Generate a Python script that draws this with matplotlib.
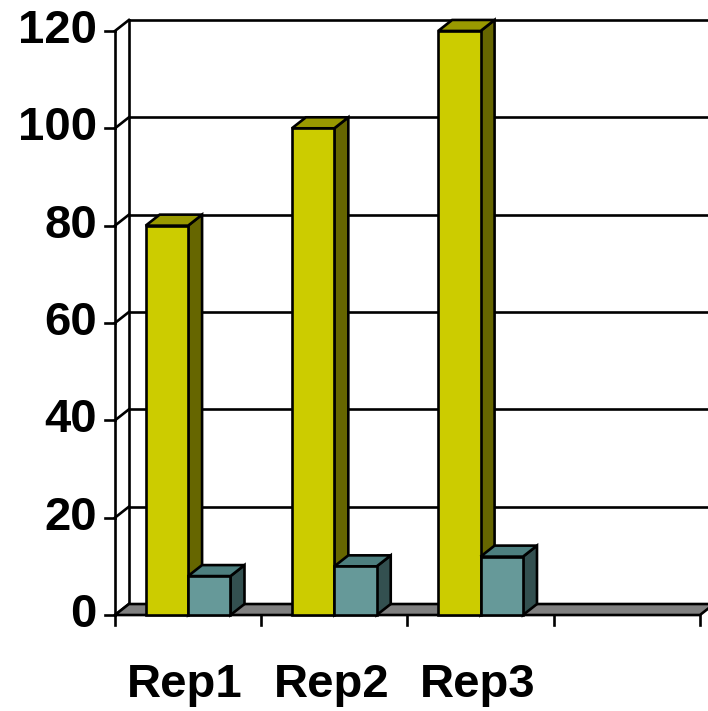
import matplotlib
matplotlib.use("Agg")
import matplotlib.pyplot as plt
from matplotlib.patches import Polygon

# Data
categories = ["Rep1", "Rep2", "Rep3", ""]
series_a = [80, 100, 120]
series_b = [8, 10, 12]
y_ticks = [0, 20, 40, 60, 80, 100, 120]

# Colours (front, top, side)
col_a = ("#CCCC00", "#999900", "#666600")
col_b = ("#669999", "#4D7F7F", "#335050")
floor_col = "#808080"

fig = plt.figure(figsize=(7.08, 7.11), dpi=100)
ax = fig.add_axes([0, 0, 1, 1])
ax.set_xlim(-0.786, 4.055)
ax.set_ylim(-19.72, 126.36)
ax.axis("off")

DX = 0.0957   # depth offset along x (category units)
DY = 2.26     # depth offset along y (value units)
LW = 1.9
n_slots = len(categories)
ymax = y_ticks[-1]

# Back wall gridlines and left wall connectors
for v in y_ticks:
    if v > 0:
        ax.plot([DX, n_slots + DX], [v + DY, v + DY], color="black", lw=LW, zorder=1)
    ax.plot([0, DX], [v, v + DY], color="black", lw=LW, zorder=1)
    ax.plot([-0.068, 0], [v, v], color="black", lw=LW, zorder=1)
    ax.text(-0.123, v, str(v), ha="right", va="center", fontsize=34,
            fontweight="bold", family="Liberation Sans")

# Left wall edges
ax.plot([0, 0], [0, ymax], color="black", lw=LW, zorder=1)
ax.plot([DX, DX], [DY, ymax + DY], color="black", lw=LW, zorder=1)

# Floor
floor = Polygon([(0, 0), (n_slots, 0), (n_slots + DX, DY), (DX, DY)],
                closed=True, facecolor=floor_col, edgecolor="black", lw=LW, zorder=2)
ax.add_patch(floor)

# X ticks
for i in range(n_slots + 1):
    ax.plot([i, i], [0, -2.1], color="black", lw=LW, zorder=2)


def bar3d(x0, w, h, cols):
    front = Polygon([(x0, 0), (x0 + w, 0), (x0 + w, h), (x0, h)], closed=True,
                    facecolor=cols[0], edgecolor="black", lw=LW, zorder=3)
    top = Polygon([(x0, h), (x0 + w, h), (x0 + w + DX, h + DY), (x0 + DX, h + DY)],
                  closed=True, facecolor=cols[1], edgecolor="black", lw=LW, zorder=3)
    side = Polygon([(x0 + w, 0), (x0 + w + DX, DY), (x0 + w + DX, h + DY), (x0 + w, h)],
                   closed=True, facecolor=cols[2], edgecolor="black", lw=LW, zorder=3)
    for p in (side, top, front):
        ax.add_patch(p)


bw = 0.29
for i, (a, b) in enumerate(zip(series_a, series_b)):
    c = i + 0.5
    bar3d(c - bw, bw, a, col_a)
    bar3d(c, bw, b, col_b)

# Category labels
for i, name in enumerate(categories):
    if name:
        ax.text(i + 0.48, -14.4, name, ha="center", va="center", fontsize=34,
                fontweight="bold", family="Liberation Sans")

fig.savefig("out.png", dpi=100)
